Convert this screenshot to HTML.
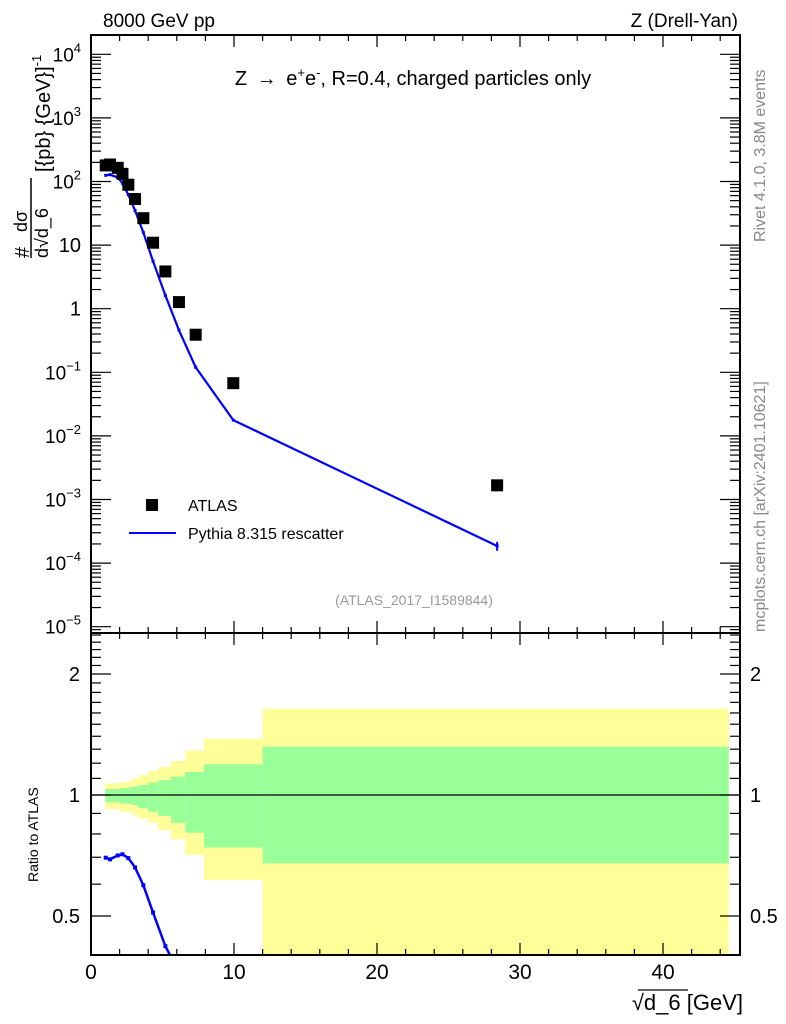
<!DOCTYPE html>
<html><head><meta charset="utf-8">
<style>
html,body{margin:0;padding:0;background:#fff;overflow:hidden;width:786px;height:1024px;}
svg{display:block;font-family:"Liberation Sans",sans-serif;}
</style></head>
<body>
<svg id="c" width="786" height="1024" viewBox="0 0 786 1024" xmlns="http://www.w3.org/2000/svg">
<text x="103" y="27" font-size="19">8000 GeV pp</text>
<text x="738" y="27" font-size="19" text-anchor="end">Z (Drell-Yan)</text>
<text x="413" y="85" font-size="20" text-anchor="middle">Z <tspan dx="4">→</tspan> <tspan dx="4">e</tspan><tspan font-size="13" dy="-8">+</tspan><tspan dy="8">e</tspan><tspan font-size="13" dy="-8">-</tspan><tspan dy="8">, R=0.4, charged particles only</tspan></text>
<text transform="translate(765,242) rotate(-90)" font-size="16" fill="#888">Rivet 4.1.0,  3.8M events</text>
<text transform="translate(765,632) rotate(-90)" font-size="16" fill="#888">mcplots.cern.ch [arXiv:2401.10621]</text>
<text x="414" y="605" font-size="14" fill="#999" text-anchor="middle">(ATLAS_2017_I1589844)</text>
<g font-size="20">
<text transform="translate(29,258) rotate(-90)">#</text>
<text transform="translate(27,232) rotate(-90)" font-size="18">dσ</text>
<line x1="31" y1="258" x2="31" y2="178" stroke="#000" stroke-width="1.5"/>
<text transform="translate(48,258) rotate(-90)" font-size="18">d√d_6</text>
<text transform="translate(50,172) rotate(-90)">[{pb} {GeV}]<tspan font-size="13" dy="-9">-1</tspan></text>
</g>
<text transform="translate(38,882) rotate(-90)" font-size="14">Ratio to ATLAS</text>
<text x="743" y="1010" font-size="22" text-anchor="end">√d_6 [GeV]</text>
<line x1="638" y1="990" x2="688" y2="990" stroke="#000" stroke-width="1.2"/>
<g>
<rect x="146" y="499" width="12" height="12" fill="#000"/>
<text x="188" y="511" font-size="16">ATLAS</text>
<line x1="129" y1="533" x2="176" y2="533" stroke="#0000ff" stroke-width="2"/>
<text x="188" y="539" font-size="16">Pythia 8.315 rescatter</text>
</g>
<g id="g"></g>
</svg>
<script>
const xVals=[1.03,1.33,1.87,2.2,2.61,3.08,3.66,4.34,5.2,6.15,7.32,9.95,28.4];
const dataVals=[179,185,164,132,89,53,26.5,10.9,3.85,1.27,0.39,0.0675,0.00167];
const mcVals=[125,128,116,94,62,35,15.8,5.56,1.62,0.46,0.12,0.0177,0.000186];
const mcErr=[0,0,0,0,0,0,0,0,0,0,0,0.0006,0.00003];
const bandEdges=[1,2,2.8,3.3,4,4.7,5.6,6.6,7.9,12,44.6];
const yellowHi=[1.069,1.078,1.098,1.12,1.147,1.175,1.215,1.29,1.38,1.64];
const yellowLo=[0.923,0.909,0.892,0.875,0.853,0.818,0.777,0.71,0.615,0.3];
const greenHi=[1.035,1.041,1.049,1.059,1.073,1.089,1.111,1.141,1.192,1.319];
const greenLo=[0.959,0.952,0.944,0.927,0.909,0.887,0.853,0.806,0.74,0.676];
const xTicks=[0,10,20,30,40];
const mainTicks=[4,3,2,1,0,-1,-2,-3,-4,-5];
const ratioTicks=[2,1,0.5];

const NS="http://www.w3.org/2000/svg",G=document.getElementById('g');
const L=91,R=740,T1=35,B1=633,T2=633,B2=955;
const X=v=>L+v*14.3;
const Y1=v=>181.5-(Math.log10(v)-2)*63.6;
const Y2=v=>795-Math.log10(v)*402;
function el(t,a,p){const e=document.createElementNS(NS,t);for(const k in a)e.setAttribute(k,a[k]);(p||G).appendChild(e);return e;}
const defs=el('defs',{});const cp=el('clipPath',{id:'rc'},defs);el('rect',{x:L,y:T2,width:R-L,height:B2-T2},cp);
const cp1=el('clipPath',{id:'mc'},defs);el('rect',{x:L,y:T1,width:R-L,height:B1-T1},cp1);
const rg=el('g',{'clip-path':'url(#rc)'});
for(let i=0;i<yellowHi.length;i++){
 const x0=X(bandEdges[i]),w=X(bandEdges[i+1])-x0;
 const y=el('rect',{x:x0,y:Y2(yellowHi[i]),width:w,height:Y2(yellowLo[i])-Y2(yellowHi[i]),fill:'#ffff99'},rg);
 
 
 const g2=el('rect',{x:x0,y:Y2(greenHi[i]),width:w,height:Y2(greenLo[i])-Y2(greenHi[i]),fill:'#99ff99'},rg);
 
 
}
el('line',{x1:L,x2:R,y1:Y2(1),y2:Y2(1),stroke:'#000','stroke-width':1.2},rg);
const rp=xVals.map((x,i)=>X(x)+','+Y2(mcVals[i]/dataVals[i])).join(' ');
const rl=el('polyline',{points:rp,fill:'none',stroke:'#0000ff','stroke-width':2.5},rg);


xVals.forEach((x,i)=>{const c=el('rect',{x:X(x)-2,y:Y2(mcVals[i]/dataVals[i])-2,width:4,height:4,fill:'#0000ff'},rg);
 
 });
const mg=el('g',{'clip-path':'url(#mc)'});
const mp=xVals.map((x,i)=>X(x)+','+Y1(mcVals[i])).join(' ');
const ml=el('polyline',{points:mp,fill:'none',stroke:'#0000ff','stroke-width':2.2},mg);


xVals.forEach((x,i)=>{
 const m=el('rect',{x:X(x)-1.5,y:Y1(mcVals[i])-1.5,width:3,height:3,fill:'#0000ff'},mg);
 
 
 if(mcErr[i]>0){el('line',{x1:X(x),x2:X(x),y1:Y1(mcVals[i]+mcErr[i]),y2:Y1(mcVals[i]-mcErr[i]),stroke:'#0000ff','stroke-width':2},mg);}
 const s=el('rect',{x:X(x)-6,y:Y1(dataVals[i])-6,width:12,height:12,fill:'#000'},mg);
 
 
});
const f1=el('rect',{x:L,y:T1,width:R-L,height:B1-T1,fill:'none',stroke:'#000','stroke-width':2});


const f2=el('rect',{x:L,y:T2,width:R-L,height:B2-T2,fill:'none',stroke:'#000','stroke-width':2});


const tk=(x1,y1,x2,y2)=>el('line',{x1,y1,x2,y2,stroke:'#000','stroke-width':1.2});
for(let v=0;v<=45;v+=2){const x=X(v);if(x>R)break;const maj=v%10==0;const h=maj?12:6;
 tk(x,B1,x,B1-h);tk(x,T1,x,T1+h);tk(x,B2,x,B2-h);tk(x,T2,x,T2+h);}
xTicks.forEach(v=>{const t=el('text',{x:X(v),y:979,'font-size':21,'text-anchor':'middle'});t.textContent=v;
 
 });
for(let d=-6;d<=4;d++){for(let k=1;k<10;k++){const y=Y1(k*Math.pow(10,d));if(y<T1||y>B1)continue;const h=k==1?20:10;tk(L,y,L+h,y);tk(R,y,R-h,y);}}
mainTicks.forEach(d=>{const y=Y1(Math.pow(10,d));let t;
 if(d==1||d==0){t=el('text',{x:81,y:y+7,'font-size':20,'text-anchor':'end'});t.textContent=d==1?'10':'1';}
 else{t=el('text',{x:81,y:y+7,'font-size':19,'text-anchor':'end'});
  const a=el('tspan',{},t);a.textContent='10';const b=el('tspan',{'font-size':13,dy:-9},t);b.textContent=String(d).replace('-','−');}
 
 });
for(let v=0.3;v<=2.6;v+=0.1){const y=Y2(v);if(y<T2||y>B2)continue;const r=Math.round(v*10)/10;const maj=(r==0.5||r==1||r==2);const h=maj?20:10;tk(L,y,L+h,y);tk(R,y,R-h,y);}
ratioTicks.forEach(v=>{[[80,'end'],[750,'start']].forEach(([x,a])=>{const t=el('text',{x,y:Y2(v)+7,'font-size':20,'text-anchor':a});t.textContent=String(v);
 
 });});
</script>
</body></html>
